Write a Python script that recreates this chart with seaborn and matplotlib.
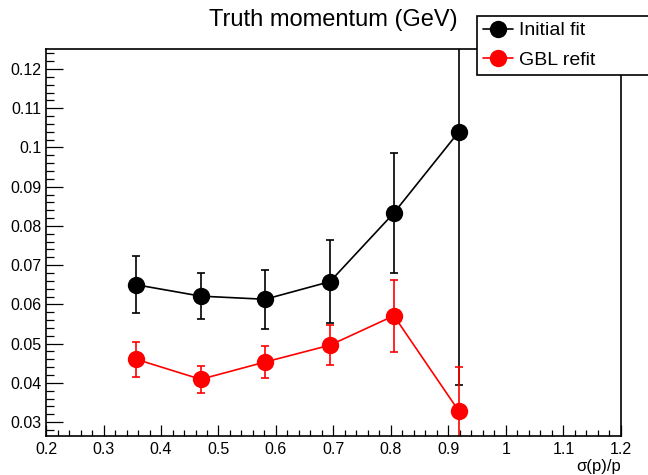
import matplotlib
matplotlib.use("Agg")
import matplotlib.pyplot as plt
import seaborn as sns
import pandas as pd
from matplotlib.ticker import MultipleLocator, FuncFormatter
from matplotlib.lines import Line2D

# ---- data ----
sigma_p = [0.357, 0.469, 0.581, 0.694, 0.805, 0.918]
initial_fit = [0.0650, 0.0621, 0.0613, 0.0658, 0.0833, 0.1040]
initial_err = [0.00725, 0.00585, 0.00755, 0.01055, 0.0153, 0.0646]
gbl_refit = [0.0460, 0.0409, 0.0453, 0.0496, 0.0571, 0.0328]
gbl_err = [0.00445, 0.00345, 0.0041, 0.0051, 0.00915, 0.0112]
series_names = ["Initial fit", "GBL refit"]
series_colors = ["black", "#ff0000"]
title = "Truth momentum (GeV)"
xlabel = "σ(p)/p"
xticks = [0.2, 0.3, 0.4, 0.5, 0.6, 0.7, 0.8, 0.9, 1.0, 1.1, 1.2]
yticks = [0.03, 0.04, 0.05, 0.06, 0.07, 0.08, 0.09, 0.10, 0.11, 0.12]

df = pd.concat([
    pd.DataFrame({"x": sigma_p, "y": initial_fit, "err": initial_err, "series": series_names[0]}),
    pd.DataFrame({"x": sigma_p, "y": gbl_refit, "err": gbl_err, "series": series_names[1]}),
], ignore_index=True)

sns.set_theme(style="white")
plt.rcParams["font.family"] = ["Liberation Sans", "DejaVu Sans"]
plt.rcParams["text.color"] = "black"
plt.rcParams["axes.labelcolor"] = "black"

fig = plt.figure(figsize=(6.48, 4.75), dpi=100)
ax = fig.add_axes([0.071, 0.082, 0.8873, 0.8148])

palette = dict(zip(series_names, series_colors))

# error bars
for name in series_names:
    sub = df[df["series"] == name]
    ax.errorbar(sub["x"], sub["y"], yerr=sub["err"], fmt="none",
                ecolor=palette[name], elinewidth=1.2, capsize=3.2,
                capthick=1.2, zorder=2)

sns.lineplot(data=df, x="x", y="y", hue="series", palette=palette,
             marker="o", markersize=12.5, markeredgewidth=0,
             linewidth=1.2, sort=False, legend=False, ax=ax, zorder=3)

ax.set_xlim(0.2, 1.2)
ax.set_ylim(0.02643, 0.1251)
ax.set_xticks(xticks)
ax.set_yticks(yticks)
ax.xaxis.set_minor_locator(MultipleLocator(0.02))
ax.yaxis.set_minor_locator(MultipleLocator(0.002))
fmt = FuncFormatter(lambda v, p: f"{round(v, 4):g}")
ax.xaxis.set_major_formatter(fmt)
ax.yaxis.set_major_formatter(fmt)

ax.tick_params(axis="both", which="both", direction="in", colors="black",
               labelsize=11.5, top=False, right=False, bottom=True, left=True,
               width=0.9)
ax.tick_params(axis="y", which="major", length=12.2, pad=3)
ax.tick_params(axis="y", which="minor", length=5.8)
ax.tick_params(axis="x", which="major", length=8, pad=4)
ax.tick_params(axis="x", which="minor", length=4)

for s in ax.spines.values():
    s.set_color("black")
    s.set_linewidth(1.2)

ax.set_xlabel(xlabel, loc="right", fontsize=12, labelpad=2, color="black")
ax.set_ylabel("")

fig.text(333 / 648, 1 - 20 / 475, title, ha="center", va="center",
         fontsize=17, color="black")

handles = [Line2D([], [], color=c, marker="o", markersize=12.5,
                  markeredgewidth=0, linewidth=1.2) for c in series_colors]
leg = fig.legend(handles, series_names, loc="upper left",
                 bbox_to_anchor=(477 / 648, 0.6, 0.40, 1 - 16 / 475 - 0.6),
                 mode="expand", fontsize=14, frameon=True, fancybox=False,
                 shadow=False, borderpad=0.3, labelspacing=0.6,
                 handlelength=1.55, handletextpad=0.3, borderaxespad=0)
for t in leg.get_texts():
    t.set_color("black")
leg.get_frame().set_edgecolor("black")
leg.get_frame().set_linewidth(1.2)
leg.get_frame().set_alpha(1)

fig.savefig("out.png", dpi=100)
